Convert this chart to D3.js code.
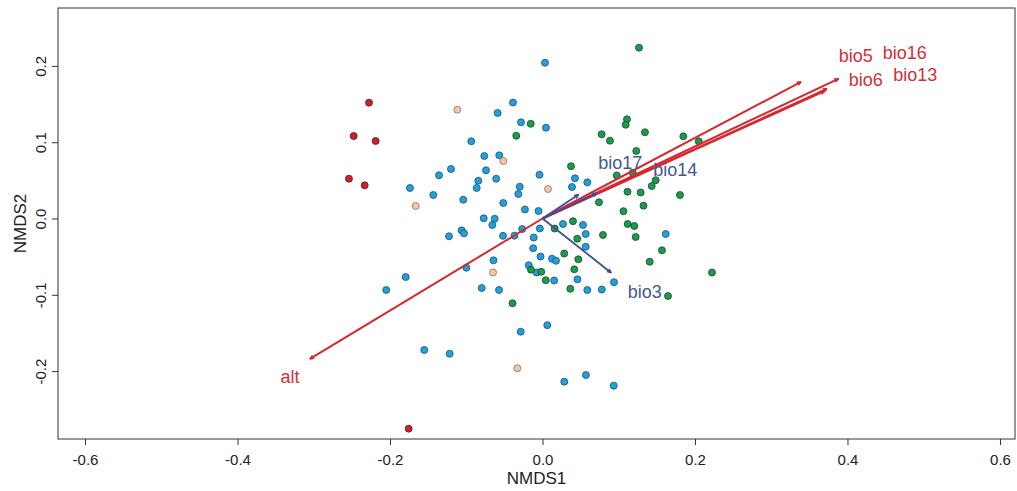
<!DOCTYPE html>
<html>
<head>
<meta charset="utf-8">
<script src="https://cdn.jsdelivr.net/npm/d3@7/dist/d3.min.js"></script>
<style>
  body { margin: 0; background: #fff; }
  svg { font-family: "Liberation Sans", Arial, sans-serif; }
</style>
</head>
<body>
<svg id="chart" width="1017" height="491"></svg>
<script>
// site scores, grouped by colour [NMDS1, NMDS2]
var redSites = [
    [-0.2275, 0.1518], [-0.2476, 0.1081], [-0.2188, 0.1016], [-0.2538, 0.0522],
    [-0.2332, 0.0435], [-0.1755, -0.2755]
];
var tanSites = [
    [-0.1117, 0.1426], [-0.0514, 0.0754], [0.0072, 0.0387], [-0.1663, 0.0164],
    [-0.0649, -0.0708], [-0.0330, -0.1963]
];
var blueSites = [
    [0.0033, 0.2042], [-0.0387, 0.1520], [-0.0588, 0.1383], [-0.0282, 0.1261],
    [0.0046, 0.1190], [-0.0934, 0.1012], [-0.0763, 0.0819], [-0.0567, 0.0828],
    [-0.1200, 0.0649], [-0.0741, 0.0632], [-0.1357, 0.0566], [-0.0039, 0.0573],
    [-0.0607, 0.0522], [0.0426, 0.0527], [-0.0842, 0.0495], [-0.0298, 0.0417],
    [-0.0863, 0.0400], [0.0387, 0.0413], [-0.1738, 0.0400], [-0.1432, 0.0308],
    [-0.0317, 0.0321], [0.0588, 0.0474], [-0.1039, 0.0246], [-0.0514, 0.0203],
    [-0.0230, 0.0118], [-0.0052, 0.0098], [-0.0771, 0.0003], [-0.0627, -0.0004],
    [-0.0658, -0.0085], [-0.1060, -0.0155], [-0.1030, -0.0194], [-0.1226, -0.0233],
    [-0.0518, -0.0227], [-0.0367, -0.0225], [-0.0266, -0.0138], [-0.0035, -0.0131],
    [0.0269, -0.0072], [0.0531, -0.0085], [-0.0115, -0.0249], [0.0567, -0.0203],
    [0.1616, -0.0203], [-0.0122, -0.0389], [0.0567, -0.0370], [-0.0026, -0.0498],
    [0.0125, -0.0527], [0.0177, -0.0554], [-0.0643, -0.0548], [-0.0999, -0.0645],
    [-0.0180, -0.0613], [-0.0076, -0.0708], [-0.1794, -0.0767], [0.0153, -0.0813],
    [0.0459, -0.0797], [-0.2049, -0.0937], [-0.0797, -0.0911], [-0.0570, -0.0937],
    [0.0588, -0.0937], [0.0778, -0.0931], [0.0938, -0.0835], [0.0063, -0.1398],
    [-0.0286, -0.1484], [-0.1550, -0.1723], [-0.1217, -0.1772], [0.0286, -0.2139],
    [0.0570, -0.2051], [0.0934, -0.2191]
];
var greenSites = [
    [0.1266, 0.2239], [-0.0155, 0.1241], [-0.0344, 0.1085], [0.1108, 0.1300],
    [0.1091, 0.1229], [0.1344, 0.1130], [0.0776, 0.1104], [0.0885, 0.1020],
    [0.1847, 0.1077], [0.2049, 0.1012], [0.1230, 0.0885], [0.0374, 0.0685],
    [0.0974, 0.0564], [0.1184, 0.0599], [0.1485, 0.0502], [0.1433, 0.0426],
    [0.1115, 0.0351], [0.1288, 0.0341], [0.1803, 0.0308], [0.0741, 0.0212],
    [0.1325, 0.0168], [0.1062, 0.0096], [0.0400, -0.0035], [0.1117, -0.0072],
    [0.1204, -0.0098], [0.0160, -0.0131], [0.0456, -0.0265], [0.0793, -0.0216],
    [0.1222, -0.0242], [0.1567, -0.0417], [0.0285, -0.0459], [0.0470, -0.0535],
    [0.1406, -0.0566], [-0.0151, -0.0671], [-0.0016, -0.0699], [0.0417, -0.0666],
    [0.2223, -0.0708], [0.0043, -0.0809], [0.0365, -0.0921], [0.1646, -0.1016],
    [-0.0393, -0.1111]
];

// fitted environmental vectors
var vecNames = ["alt", "bio5", "bio16", "bio6", "bio13", "bio17", "bio14", "bio3"];
var vecX = [-0.305, 0.339, 0.388, 0.373, 0.370, 0.047, 0.071, 0.090];
var vecY = [-0.184, 0.179, 0.183, 0.170, 0.167, 0.031, 0.033, -0.071];
var vecGroup = ["red", "red", "red", "red", "red", "blue", "blue", "blue"];
var labelX = [-0.331, 0.411, 0.475, 0.424, 0.489, 0.102, 0.174, 0.134];
var labelY = [-0.208, 0.214, 0.217, 0.182, 0.189, 0.073, 0.064, -0.096];

var xTicks = [-0.6, -0.4, -0.2, 0.0, 0.2, 0.4, 0.6];
var yTicks = [-0.2, -0.1, 0.0, 0.1, 0.2];

var box = {left: 58, right: 1015, top: 8, bottom: 439};

var x = d3.scaleLinear()
    .domain([-0.6354, 0.6197])
    .range([box.left, box.right]);

var y = d3.scaleLinear()
    .domain([-0.289, 0.2759])
    .range([box.bottom, box.top]);

var svg = d3.select("#chart");

var fmt = function (d) { return d.toFixed(1); };

// axes
var gx = svg.append("g")
    .attr("transform", "translate(0," + box.bottom + ")")
    .call(d3.axisBottom(x).tickValues(xTicks).tickFormat(fmt).tickSize(6));
gx.select(".domain").remove();
gx.selectAll("line").attr("stroke", "#333");
gx.selectAll("text")
    .attr("y", 15)
    .attr("dy", "0.71em")
    .attr("fill", "#222")
    .style("font-size", "15px")
    .style("font-family", "'Liberation Sans', Arial, sans-serif");

var gy = svg.append("g")
    .attr("transform", "translate(" + box.left + ",0)")
    .call(d3.axisLeft(y).tickValues(yTicks).tickFormat(fmt).tickSize(6));
gy.select(".domain").remove();
gy.selectAll("line").attr("stroke", "#333");
gy.selectAll("text")
    .attr("transform", "rotate(-90)")
    .attr("x", 0)
    .attr("y", -12)
    .attr("dy", 0)
    .attr("fill", "#222")
    .style("text-anchor", "middle")
    .style("font-size", "15px")
    .style("font-family", "'Liberation Sans', Arial, sans-serif");

svg.append("rect")
    .attr("x", box.left)
    .attr("y", box.top)
    .attr("width", box.right - box.left)
    .attr("height", box.bottom - box.top)
    .attr("fill", "none")
    .attr("stroke", "#333")
    .attr("stroke-width", 1);

svg.append("text")
    .attr("x", (box.left + box.right) / 2)
    .attr("y", 484)
    .attr("text-anchor", "middle")
    .attr("fill", "#222")
    .style("font-size", "17px")
    .text("NMDS1");

svg.append("text")
    .attr("transform", "translate(26," + ((box.top + box.bottom) / 2) + ") rotate(-90)")
    .attr("text-anchor", "middle")
    .attr("fill", "#222")
    .style("font-size", "17px")
    .text("NMDS2");

// site points
var groups = [
    {data: blueSites, fill: "#239fd9", stroke: "#1d4f75"},
    {data: greenSites, fill: "#1c9a4e", stroke: "#174a2c"},
    {data: tanSites, fill: "#f2c6a6", stroke: "#8a6f5e"},
    {data: redSites, fill: "#c8232c", stroke: "#5e1618"}
];

groups.forEach(function (g) {
    svg.append("g")
        .selectAll("circle")
        .data(g.data)
        .enter()
        .append("circle")
        .attr("cx", function (d) { return x(d[0]); })
        .attr("cy", function (d) { return y(d[1]); })
        .attr("r", 3.5)
        .attr("fill", g.fill)
        .attr("stroke", g.stroke)
        .attr("stroke-width", 0.8);
});

// arrows
var colors = {
    red: {line: "#d7282f", text: "#d1303a", width: 2},
    blue: {line: "#3a4f96", text: "#425893", width: 1.8}
};

var defs = svg.append("defs");
["red", "blue"].forEach(function (k) {
    defs.append("marker")
        .attr("id", "head-" + k)
        .attr("viewBox", "0 0 10 10")
        .attr("refX", 9)
        .attr("refY", 5)
        .attr("markerWidth", 5)
        .attr("markerHeight", 5)
        .attr("markerUnits", "userSpaceOnUse")
        .attr("orient", "auto")
        .append("path")
        .attr("d", "M1,1.5 L9,5 L1,8.5")
        .attr("fill", "none")
        .attr("stroke", colors[k].line)
        .attr("stroke-width", 3);
});

var vectors = vecNames.map(function (n, i) {
    return {name: n, x: vecX[i], y: vecY[i], g: vecGroup[i], lx: labelX[i], ly: labelY[i]};
});

svg.append("g")
    .selectAll("line")
    .data(vectors)
    .enter()
    .append("line")
    .attr("x1", x(0))
    .attr("y1", y(0))
    .attr("x2", function (d) { return x(d.x); })
    .attr("y2", function (d) { return y(d.y); })
    .attr("stroke", function (d) { return colors[d.g].line; })
    .attr("stroke-width", function (d) { return colors[d.g].width; })
    .attr("marker-end", function (d) { return "url(#head-" + d.g + ")"; });

svg.append("g")
    .selectAll("text")
    .data(vectors)
    .enter()
    .append("text")
    .attr("x", function (d) { return x(d.lx); })
    .attr("y", function (d) { return y(d.ly); })
    .attr("dy", "0.35em")
    .attr("text-anchor", "middle")
    .attr("fill", function (d) { return colors[d.g].text; })
    .style("font-size", "18px")
    .text(function (d) { return d.name; });
</script>
</body>
</html>
